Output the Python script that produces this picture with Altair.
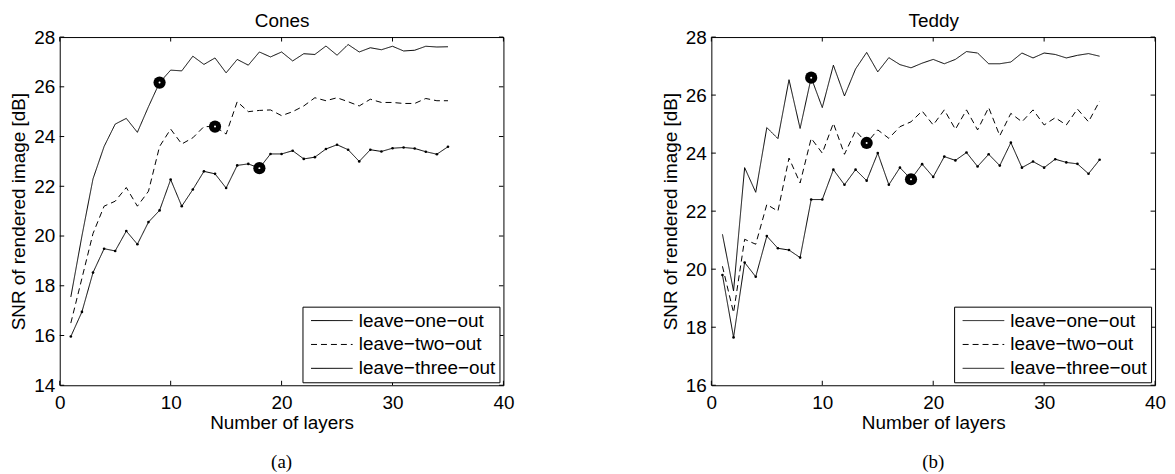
import altair as alt
import pandas as pd

# ---------------- data ----------------
layers = list(range(1, 36))
series_names = ["leave−one−out", "leave−two−out", "leave−three−out"]

cones_one = [17.55, 20.0, 22.3, 23.6, 24.5, 24.73, 24.17, 25.2, 26.17, 26.67,
             26.64, 27.23, 26.9, 27.16, 26.56, 27.1, 26.87, 27.4, 27.2, 27.4,
             27.04, 27.33, 27.3, 27.64, 27.27, 27.7, 27.4, 27.57, 27.49, 27.63,
             27.44, 27.47, 27.63, 27.6, 27.61]
cones_two = [16.5, 18.3, 20.1, 21.2, 21.4, 21.95, 21.2, 21.8, 23.6, 24.3,
             23.7, 23.95, 24.4, 24.4, 24.1, 25.4, 25.0, 25.05, 25.07, 24.84,
             25.0, 25.23, 25.56, 25.44, 25.56, 25.4, 25.23, 25.5, 25.37, 25.37,
             25.33, 25.33, 25.53, 25.44, 25.44]
cones_three = [15.96, 16.95, 18.53, 19.49, 19.4, 20.2, 19.67, 20.56, 21.03, 22.27,
               21.2, 21.87, 22.6, 22.5, 21.93, 22.84, 22.9, 22.73, 23.3, 23.3,
               23.43, 23.1, 23.17, 23.5, 23.67, 23.47, 23.0, 23.47, 23.4, 23.53,
               23.56, 23.52, 23.39, 23.29, 23.59]

teddy_one = [21.2, 19.25, 23.5, 22.65, 24.88, 24.5, 26.53, 24.85, 26.6, 25.57,
             27.03, 25.97, 26.9, 27.47, 26.8, 27.29, 27.05, 26.94, 27.1, 27.23,
             27.08, 27.23, 27.5, 27.45, 27.08, 27.08, 27.14, 27.45, 27.28, 27.45,
             27.4, 27.28, 27.37, 27.43, 27.34]
teddy_two = [20.1, 18.5, 21.03, 20.86, 22.23, 22.0, 23.83, 22.97, 24.51, 24.0,
             25.03, 23.96, 24.77, 24.35, 24.8, 24.51, 24.91, 25.08, 25.45, 24.97,
             25.49, 24.82, 25.49, 24.8, 25.57, 24.6, 25.37, 25.08, 25.49, 24.97,
             25.22, 24.97, 25.52, 25.08, 25.79]
teddy_three = [19.8, 17.65, 20.23, 19.74, 21.14, 20.72, 20.66, 20.4, 22.4, 22.4,
               23.43, 22.91, 23.43, 23.05, 24.0, 22.91, 23.5, 23.1, 23.62, 23.18,
               23.88, 23.75, 24.02, 23.54, 23.96, 23.57, 24.36, 23.5, 23.71, 23.5,
               23.79, 23.68, 23.63, 23.29, 23.77]

# highlighted layer count on each curve (one-out, two-out, three-out)
marker_layers = [9, 14, 18]

x_ticks = [0, 10, 20, 30, 40]
cones_y_ticks = [14, 16, 18, 20, 22, 24, 26, 28]
teddy_y_ticks = [16, 18, 20, 22, 24, 26, 28]

# ---------------- style ----------------
W, H = 446, 350
FONT = "Liberation Sans"
SERIF = "Liberation Serif"
FS = 19
TICK = 4.5
SYM = 19            # nominal legend symbol size (px)
LEG_LINE = "M-2.2,0H2.2"   # 42 px long sample line


def panel(name, sub, one, two, three, yticks):
    rows = []
    for s, vals in zip(series_names, [one, two, three]):
        for n, v in zip(layers, vals):
            rows.append({"layer": n, "snr": v, "series": s})
    df = pd.DataFrame(rows)

    mk = []
    for s, vals, n in zip(series_names, [one, two, three], marker_layers):
        mk.append({"layer": n, "snr": vals[n - 1], "series": s})
    mdf = pd.DataFrame(mk)

    xs = alt.Scale(domain=[x_ticks[0], x_ticks[-1]], nice=False, zero=False)
    ys = alt.Scale(domain=[yticks[0], yticks[-1]], nice=False, zero=False)

    legend = alt.Legend(
        title=None, orient="none", legendX=244, legendY=271,
        strokeColor="black", fillColor="white", cornerRadius=0,
        padding=4, rowPadding=4, symbolOffset=15.5, labelOffset=17,
        labelFont=FONT, labelFontSize=FS, labelColor="black",
        symbolSize=SYM * SYM, symbolStrokeWidth=1, symbolType=LEG_LINE,
        symbolStrokeColor="black", labelLimit=400,
    )

    base = alt.Chart(df)
    lines = base.mark_line(strokeWidth=1, color="black").encode(
        x=alt.X("layer:Q", scale=xs,
                axis=alt.Axis(values=x_ticks, title="Number of layers",
                              labelFlush=False, ticks=False, tickSize=0,
                              domain=False, grid=False, labelPadding=8,
                              labelFont=FONT, labelFontSize=FS, labelColor="black",
                              titleFont=FONT, titleFontSize=FS, titleFontWeight="normal",
                              titleColor="black", titlePadding=1)),
        y=alt.Y("snr:Q", scale=ys,
                axis=alt.Axis(values=yticks, title="SNR of rendered image [dB]",
                              ticks=False, tickSize=0, domain=False, grid=False,
                              labelPadding=5, labelFont=FONT, labelFontSize=FS,
                              labelColor="black", titleFont=FONT, titleFontSize=FS,
                              titleFontWeight="normal", titleColor="black",
                              titleX=-41, titleBaseline="middle", titleAngle=270)),
        color=alt.Color("series:N", scale=alt.Scale(domain=series_names,
                                                    range=["black", "black", "black"]),
                        legend=legend),
        strokeDash=alt.StrokeDash("series:N", scale=alt.Scale(domain=series_names,
                                                              range=[[1, 0], [6, 4], [1, 0]]),
                                  legend=legend),
    )

    dots = base.transform_filter(alt.datum.series == series_names[2]).mark_circle(
        size=7, color="black", opacity=1).encode(
        x=alt.X("layer:Q", scale=xs, axis=None),
        y=alt.Y("snr:Q", scale=ys, axis=None))

    big = alt.Chart(mdf).mark_circle(size=150, color="black", opacity=1).encode(
        x=alt.X("layer:Q", scale=xs, axis=None),
        y=alt.Y("snr:Q", scale=ys, axis=None))
    centre = alt.Chart(mdf).mark_circle(size=4, color="white", opacity=1).encode(
        x=alt.X("layer:Q", scale=xs, axis=None),
        y=alt.Y("snr:Q", scale=ys, axis=None))

    xt = pd.DataFrame({"v": x_ticks})
    yt = pd.DataFrame({"v": yticks})
    tick_style = dict(color="black", strokeWidth=1)
    t_left = alt.Chart(yt).mark_rule(**tick_style).encode(
        y=alt.Y("v:Q", scale=ys, axis=None), x=alt.value(0), x2=alt.value(TICK))
    t_right = alt.Chart(yt).mark_rule(**tick_style).encode(
        y=alt.Y("v:Q", scale=ys, axis=None), x=alt.value(W - TICK), x2=alt.value(W))
    t_bottom = alt.Chart(xt).mark_rule(**tick_style).encode(
        x=alt.X("v:Q", scale=xs, axis=None), y=alt.value(H), y2=alt.value(H - TICK))
    t_top = alt.Chart(xt).mark_rule(**tick_style).encode(
        x=alt.X("v:Q", scale=xs,
                axis=alt.Axis(orient="top", title=name, labels=False, ticks=False,
                              domain=False, grid=False, titleFont=FONT,
                              titleFontSize=FS, titleFontWeight="normal",
                              titleColor="black", titlePadding=7)),
        y=alt.value(0), y2=alt.value(TICK))

    return alt.layer(lines, dots, big, centre, t_left, t_right, t_bottom, t_top).resolve_axis(
        x="independent", y="independent").properties(
        width=W, height=H,
        title=alt.TitleParams(sub, orient="bottom", font=SERIF, fontSize=FS,
                              fontWeight="normal", color="black", offset=21))


left = panel("Cones", "(a)", cones_one, cones_two, cones_three, cones_y_ticks)
right = panel("Teddy", "(b)", teddy_one, teddy_two, teddy_three, teddy_y_ticks)

chart = alt.hconcat(left, right, spacing=209, bounds="flush").resolve_scale(
    color="independent", strokeDash="independent").properties(
    padding={"left": 1, "top": 1, "right": 0, "bottom": 0},
    background="white",
).configure_view(stroke="black", strokeWidth=1)

chart.save("out.html", embed_options={"renderer": "svg", "actions": False})
